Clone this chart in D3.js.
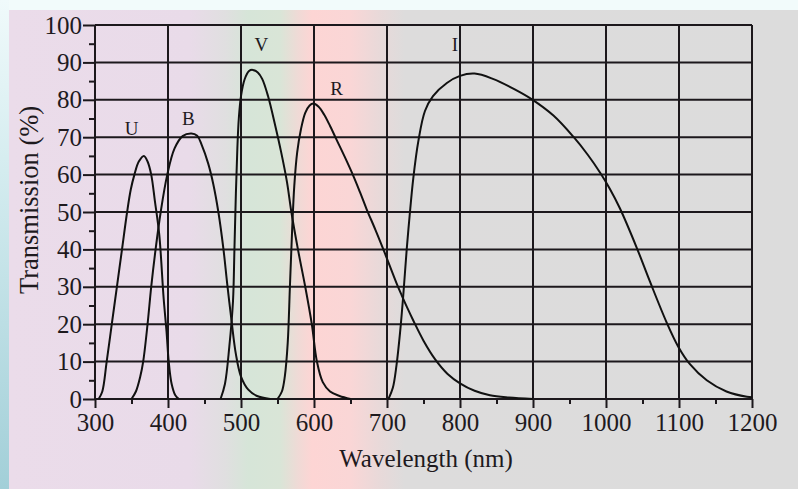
<!DOCTYPE html>
<html>
<head>
<meta charset="utf-8">
<script src="https://cdn.jsdelivr.net/npm/d3@7/dist/d3.min.js"></script>
<style>
  html, body { margin: 0; padding: 0; background: #f2fbfb; }
  svg { display: block; }
  text { font-family: "Liberation Serif", "DejaVu Serif", serif; fill: #1e1a1e; }
</style>
</head>
<body>
<svg id="chart" width="798" height="489"></svg>
<script>
// Filter transmission curves: [wavelength (nm), transmission (%)]
const filterU = [[305,0],[310,2],[316,10],[323,20],[330,30],[337,40],[344,50],[349,56],[354,60],[360,63.5],[367,65],[372,63.5],[377,60],[382,53],[388,44],[394,27],[398,18],[401,10],[405,4],[410,1],[415,0]];
const filterB = [[350,0],[356,2],[362,6],[366,10],[372,20],[377,30],[383,40],[390,50],[399,60],[409,67],[420,70.3],[432,71],[440,70.4],[446,68],[455,63],[462,57.5],[469,50],[476,40],[481,31],[487,21],[493,12],[500,6],[510,2.5],[522,0.8],[540,0]];
const filterV = [[472,0],[478,4],[484,14],[489,26],[491,40],[493,55],[495,67],[497,75],[500,81],[505,85.5],[511,87.7],[516,88],[523,87.3],[529,85.6],[537,81],[547,73],[555,66],[563,58],[569,50],[578,40],[588,30],[597,20],[604,10],[612,4.5],[622,2],[635,0.8],[650,0]];
const filterR = [[550,0],[556,2],[560,6],[564,15],[567,30],[570,45],[573,57],[577,66],[582,72],[588,76.5],[594,78.5],[599,79],[606,78.2],[614,76],[622,73],[631,69.3],[642,64.8],[654,59.6],[663,55.3],[672,50.8],[684,45.3],[695,40],[705,35],[713,31],[720,27.8],[728,24.3],[736,21],[750,15.6],[766,10.6],[783,6.7],[800,4.2],[820,2.2],[841,1],[867,0.4],[900,0]];
const filterI = [[702,0],[708,3],[713,9],[718,18],[722,27],[727,40],[731,49],[736,59],[743,69],[752,77],[763,81],[782,84.5],[800,86.4],[820,87],[845,85.6],[873,83],[898,80.2],[928,75.8],[955,70.2],[975,65.3],[992,60.5],[1005,56.3],[1019,51],[1042,40.5],[1060,31.5],[1083,20.5],[1099,14],[1115,9.3],[1138,5],[1165,2],[1193,0.6],[1200,0.5]];

const bandNames = ["U", "B", "V", "R", "I"];
// Where each band name sits, in data units [nm, %]
const bandLabelAt = [[350,72.4],[428,75],[528,94.7],[631,83],[793,94.7]];

const wavelengthTicks = [300,400,500,600,700,800,900,1000,1100,1200];
const wavelengthMinorTicks = [350,450,550,650,750,850,950,1050,1150];
const transmissionTicks = [0,10,20,30,40,50,60,70,80,90,100];
const transmissionMinorTicks = [5,15,25,35,45,55,65,75,85,95];

const xTitle = "Wavelength (nm)";
const yTitle = "Transmission (%)";

const W = 798, H = 489;
const svg = d3.select("#chart");

// ---- backdrop: spectrum-tinted panel with a cyan frame strip ----
const defs = svg.append("defs");
const spectrum = defs.append("linearGradient")
  .attr("id", "spectrum").attr("gradientUnits", "userSpaceOnUse")
  .attr("x1", 9).attr("x2", W).attr("y1", 0).attr("y2", 0);
[[9,"#ebdcea"],[190,"#e9dbe9"],[225,"#e0dfe0"],[248,"#d6e5d8"],[280,"#d9e5d7"],[298,"#efdad6"],[312,"#fdd5d4"],[350,"#fad6d6"],[380,"#e8d9d9"],[405,"#dddcdc"],[798,"#dcdcdc"]]
  .forEach(([x, c]) => spectrum.append("stop").attr("offset", (x - 9) / (W - 9)).attr("stop-color", c));

const edge = defs.append("linearGradient")
  .attr("id", "edge").attr("x1", 0).attr("x2", 0).attr("y1", 0).attr("y2", 1);
edge.append("stop").attr("offset", 0).attr("stop-color", "#f0fafb");
edge.append("stop").attr("offset", 0.35).attr("stop-color", "#d4ecef");
edge.append("stop").attr("offset", 1).attr("stop-color", "#a2cfd8");

svg.append("rect").attr("width", W).attr("height", H).attr("fill", "#f2fbfb");
svg.append("rect").attr("x", 0).attr("y", 0).attr("width", 9).attr("height", H).attr("fill", "url(#edge)");
svg.append("rect").attr("x", 9).attr("y", 10).attr("width", W - 9).attr("height", H - 10).attr("fill", "url(#spectrum)");

// ---- scales ----
const x = d3.scaleLinear().domain([300, 1200]).range([95, 752]);
const y = d3.scaleLinear().domain([0, 100]).range([399, 25]);

const ink = "#1c181c";
const g = svg.append("g");

// grid
g.append("g").selectAll("line").data(wavelengthTicks).join("line")
  .attr("x1", d => x(d)).attr("x2", d => x(d))
  .attr("y1", y(0)).attr("y2", y(100))
  .attr("stroke", ink).attr("stroke-width", 2);
g.append("g").selectAll("line").data(transmissionTicks).join("line")
  .attr("x1", x(300)).attr("x2", x(1200))
  .attr("y1", d => y(d)).attr("y2", d => y(d))
  .attr("stroke", ink).attr("stroke-width", 2);

// axes
const xAxis = d3.axisBottom(x).tickValues(wavelengthTicks).tickSize(9).tickPadding(4).tickFormat(d3.format("d"));
const xAxisG = g.append("g").attr("transform", `translate(0,${y(0)})`).call(xAxis);
const xMinor = g.append("g").attr("transform", `translate(0,${y(0)})`)
  .call(d3.axisBottom(x).tickValues(wavelengthMinorTicks).tickSize(5).tickFormat(""));

const yAxis = d3.axisLeft(y).tickValues(transmissionTicks).tickSize(12).tickPadding(1).tickFormat(d3.format("d"));
const yAxisG = g.append("g").attr("transform", `translate(${x(300)},0)`).call(yAxis);
const yMinor = g.append("g").attr("transform", `translate(${x(300)},0)`)
  .call(d3.axisLeft(y).tickValues(transmissionMinorTicks).tickSize(6).tickFormat(""));

[xAxisG, xMinor, yAxisG, yMinor].forEach(a => {
  a.select(".domain").remove();
  a.selectAll(".tick line").attr("stroke", ink).attr("stroke-width", 2);
  a.selectAll(".tick text").attr("fill", ink).style("font-family", '"Liberation Serif", serif').style("font-size", "25px");
});
xAxisG.selectAll(".tick text").attr("dy", "0.75em");

// curves
const line = d3.line().x(d => x(d[0])).y(d => y(d[1])).curve(d3.curveCatmullRom.alpha(0.5));
const series = [filterU, filterB, filterV, filterR, filterI];
g.append("g").selectAll("path").data(series).join("path")
  .attr("d", line)
  .attr("fill", "none").attr("stroke", "#111").attr("stroke-width", 2)
  .attr("stroke-linejoin", "round");

// band names
g.append("g").selectAll("text").data(bandNames).join("text")
  .attr("x", (d, i) => x(bandLabelAt[i][0]))
  .attr("y", (d, i) => y(bandLabelAt[i][1]))
  .attr("dy", "0.35em")
  .attr("text-anchor", "middle")
  .style("font-size", "19px")
  .text(d => d);

// axis titles
svg.append("text")
  .attr("x", 426).attr("y", 467)
  .attr("text-anchor", "middle")
  .style("font-size", "25px")
  .text(xTitle);

svg.append("text")
  .attr("transform", "translate(38,200) rotate(-90)")
  .attr("text-anchor", "middle")
  .style("font-size", "26.5px")
  .text(yTitle);
</script>
</body>
</html>
